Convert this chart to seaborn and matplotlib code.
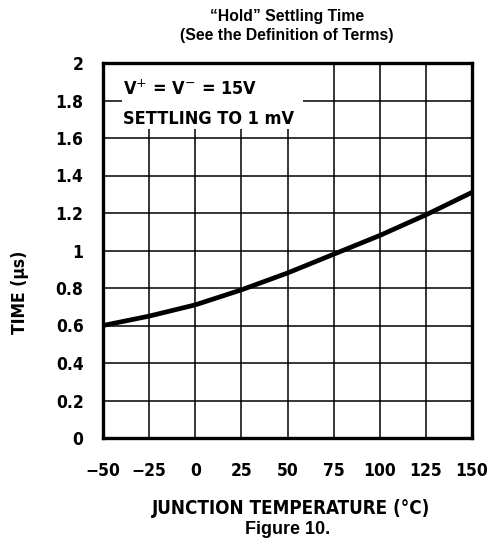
import matplotlib
matplotlib.use("Agg")
import matplotlib.pyplot as plt
import seaborn as sns
import pandas as pd
from matplotlib.patches import Rectangle

temperature_c = [-50, -25, 0, 25, 50, 75, 100, 125, 150]
settling_time_us = [0.60, 0.65, 0.71, 0.79, 0.88, 0.98, 1.08, 1.19, 1.31]
x_ticks = [-50, -25, 0, 25, 50, 75, 100, 125, 150]
x_tick_labels = ["\u221250", "\u221225", "0", "25", "50", "75", "100", "125", "150"]
y_ticks = [0, 0.2, 0.4, 0.6, 0.8, 1.0, 1.2, 1.4, 1.6, 1.8, 2.0]
y_tick_labels = ["0", "0.2", "0.4", "0.6", "0.8", "1", "1.2", "1.4", "1.6", "1.8", "2"]

sns.set_style("white")
plt.rcParams['font.family'] = ['DejaVu Sans']
plt.rcParams['text.color'] = 'black'
plt.rcParams['xtick.color'] = 'black'
plt.rcParams['ytick.color'] = 'black'

df = pd.DataFrame({"temp": temperature_c, "time": settling_time_us})

fig = plt.figure(figsize=(4.96, 5.45), dpi=100)
ax = fig.add_axes([103/496, 1-438/545, (472-103)/496, (438-63)/545])

cond = dict(fontweight='bold', fontstretch='condensed', family='DejaVu Sans', color='black')

ax.set_xlim(-50, 150)
ax.set_ylim(0, 2)
ax.set_xticks(x_ticks)
ax.set_yticks(y_ticks)
ax.grid(True, color='black', linewidth=1.1, zorder=1)
ax.set_axisbelow(True)

# white label box covering grid in top-left
ax.add_patch(Rectangle((-39.5, 1.648), 98, 0.36, facecolor='white', edgecolor='none', zorder=1.5))

sns.lineplot(data=df, x="temp", y="time", ax=ax, color='black', linewidth=3.4, zorder=3)

ax.set_xticklabels(x_tick_labels, fontsize=12.5, **cond)
ax.set_yticklabels(y_tick_labels, fontsize=12.5, **cond)
ax.tick_params(axis='both', length=0)
ax.tick_params(axis='y', pad=14)
ax.tick_params(axis='x', pad=17)

for s in ax.spines.values():
    s.set_visible(True)
    s.set_color('black')
    s.set_linewidth(2.4)

ax.set_xlabel("")
ax.set_ylabel("")

ax.text(-39, 1.86, "V$^{+}$ = V$^{-}$ = 15V", fontsize=13, va='center', ha='left', zorder=4, **cond)
ax.text(-39, 1.7, "SETTLING TO 1 mV", fontsize=13, va='center', ha='left', zorder=4, **cond)

fig.text(287/496, 1-17/545, "\u201cHold\u201d Settling Time", ha='center', va='center',
         fontsize=11.3, fontweight='bold', family='Liberation Sans', color='black')
fig.text(287/496, 1-35/545, "(See the Definition of Terms)", ha='center', va='center',
         fontsize=11.3, fontweight='bold', family='Liberation Sans', color='black')
fig.text(291/496, 1-508/545, "JUNCTION TEMPERATURE (\u00b0C)", ha='center', va='center',
         fontsize=13.5, **cond)
fig.text(288/496, 1-530/545, "Figure 10.", ha='center', va='center',
         fontsize=13, fontweight='bold', family='Liberation Sans', color='black')
fig.text(20/496, 1-292/545, "TIME (\u00b5s)", ha='center', va='center', rotation=90,
         fontsize=12.5, **cond)

fig.savefig("out.png", dpi=100, facecolor='white')
